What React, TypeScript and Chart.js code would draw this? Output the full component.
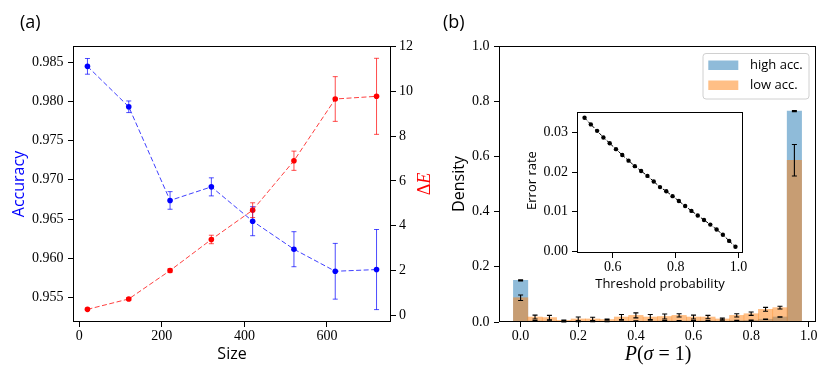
import React, { useEffect, useRef } from 'react';
import { Chart, registerables } from 'chart.js';

Chart.register(...registerables);

// ---------- Panel (a) data ----------
const sizes = [20, 120, 220, 320, 420, 520, 620, 720];
const accuracy = [0.98445, 0.9793, 0.96737, 0.9691, 0.96473, 0.96116, 0.95835, 0.95857];
const accuracyErr = [0.001, 0.00074, 0.00112, 0.00115, 0.00185, 0.00223, 0.00355, 0.0051];
const deltaE = [0.255, 0.72, 1.99, 3.38, 4.69, 6.9, 9.66, 9.78];
const deltaEErr = [0.05, 0.06, 0.08, 0.19, 0.33, 0.43, 1.0, 1.7];
const sizeTicks = [0, 200, 400, 600];
const accuracyTicks = [0.955, 0.96, 0.965, 0.97, 0.975, 0.98, 0.985];
const deltaETicks = [0, 2, 4, 6, 8, 10, 12];

// ---------- Panel (b) data ----------
const binCenters = [0, 0.05, 0.1, 0.15, 0.2, 0.25, 0.3, 0.35, 0.4, 0.45, 0.5, 0.55, 0.6, 0.65, 0.7, 0.75, 0.8, 0.85, 0.9, 0.95];
const highAcc = [0.151, 0.004, 0.003, 0.001, 0.002, 0.002, 0.002, 0.003, 0.003, 0.003, 0.004, 0.004, 0.004, 0.004, 0.003, 0.005, 0.006, 0.01, 0.018, 0.764];
const highAccErr = [0.002, 0.001, 0.001, 0.001, 0.001, 0.001, 0.001, 0.001, 0.001, 0.001, 0.001, 0.001, 0.001, 0.001, 0.001, 0.001, 0.001, 0.001, 0.001, 0.002];
const lowAcc = [0.088, 0.018, 0.016, 0.006, 0.011, 0.011, 0.009, 0.018, 0.024, 0.018, 0.02, 0.024, 0.018, 0.018, 0.011, 0.024, 0.03, 0.046, 0.052, 0.586];
const lowAccErr = [0.01, 0.007, 0.008, 0.001, 0.007, 0.006, 0.002, 0.009, 0.009, 0.009, 0.009, 0.006, 0.007, 0.006, 0.003, 0.006, 0.006, 0.007, 0.005, 0.057];
const probTicks = [0, 0.2, 0.4, 0.6, 0.8, 1.0];
const densityTicks = [0, 0.2, 0.4, 0.6, 0.8, 1.0];

// ---------- Inset data ----------
const thresholds = [0.51, 0.53, 0.55, 0.57, 0.59, 0.61, 0.63, 0.65, 0.67, 0.69, 0.71, 0.73, 0.75, 0.77, 0.79, 0.81, 0.83, 0.85, 0.87, 0.89, 0.91, 0.93, 0.95, 0.97, 0.99];
const errorRate = [0.03375, 0.03208, 0.03045, 0.02878, 0.0273, 0.02581, 0.02432, 0.0229, 0.02151, 0.02027, 0.01903, 0.01762, 0.0162, 0.01514, 0.0139, 0.01266, 0.01141, 0.01017, 0.00901, 0.00787, 0.0067, 0.00546, 0.00414, 0.00256, 0.00107];
const thresholdTicks = [0.6, 0.8, 1.0];
const errorRateTicks = [0, 0.01, 0.02, 0.03];

const SERIF = '"Liberation Serif", "DejaVu Serif", serif';
const SANS = '"Open Sans", "DejaVu Sans", sans-serif';
const TICK_SIZE = 14;

type Run = { text: string; font: string };
type TextItem = { runs: Run[]; x: number; y: number; rotate?: number; color?: string; align?: 'left' | 'center' };

function textPlugin(items: TextItem[]) {
  return {
    id: 'customTexts',
    afterDraw(chart: any) {
      const ctx = chart.ctx;
      items.forEach((it) => {
        ctx.save();
        ctx.translate(it.x, it.y);
        if (it.rotate) ctx.rotate(it.rotate);
        ctx.fillStyle = it.color || '#000';
        ctx.textBaseline = 'middle';
        ctx.textAlign = 'left';
        let total = 0;
        it.runs.forEach((r) => {
          ctx.font = r.font;
          total += ctx.measureText(r.text).width;
        });
        let x = it.align === 'left' ? 0 : -total / 2;
        it.runs.forEach((r) => {
          ctx.font = r.font;
          ctx.fillText(r.text, x, 0);
          x += ctx.measureText(r.text).width;
        });
        ctx.restore();
      });
    },
  };
}

const framePlugin = {
  id: 'frame',
  beforeDraw(chart: any) {
    const { ctx, chartArea: a } = chart;
    ctx.save();
    ctx.fillStyle = '#ffffff';
    ctx.fillRect(a.left, a.top, a.right - a.left, a.bottom - a.top);
    ctx.restore();
  },
  afterDatasetsDraw(chart: any) {
    const { ctx, chartArea: a } = chart;
    ctx.save();
    ctx.strokeStyle = '#000';
    ctx.lineWidth = 1;
    const l = Math.round(a.left) + 0.5;
    const t = Math.round(a.top) + 0.5;
    const r = Math.round(a.right) - 0.5;
    const b = Math.round(a.bottom) - 0.5;
    ctx.strokeRect(l, t, r - l, b - t);
    ctx.restore();
  },
};

const errorBarPlugin = {
  id: 'errorBars',
  afterDatasetsDraw(chart: any) {
    const ctx = chart.ctx;
    chart.data.datasets.forEach((ds: any, i: number) => {
      if (!ds.errors) return;
      const meta = chart.getDatasetMeta(i);
      const xs = chart.scales[meta.xAxisID];
      const ys = chart.scales[meta.yAxisID];
      ctx.save();
      ctx.strokeStyle = ds.errorColor;
      ctx.lineWidth = ds.errorWidth || 1;
      const cap = ds.capSize || 2.5;
      ds.data.forEach((p: any, j: number) => {
        const e = ds.errors[j];
        const x = xs.getPixelForValue(p.x);
        const yt = ys.getPixelForValue(p.y + e);
        const yb = ys.getPixelForValue(p.y - e);
        ctx.beginPath();
        ctx.moveTo(x, yt);
        ctx.lineTo(x, yb);
        ctx.moveTo(x - cap, yt);
        ctx.lineTo(x + cap, yt);
        ctx.moveTo(x - cap, yb);
        ctx.lineTo(x + cap, yb);
        ctx.stroke();
      });
      ctx.restore();
    });
  },
};

function axis(opts: any) {
  const { ticks, fmt, fit, pad, ...rest } = opts;
  return {
    ...rest,
    offset: false,
    grid: { display: true, drawOnChartArea: false, drawTicks: true, tickLength: 5, color: '#000', lineWidth: 1, offset: false },
    border: { display: false },
    ticks: {
      color: '#000',
      font: { family: SERIF, size: TICK_SIZE, lineHeight: 1.1 },
      padding: pad,
      maxRotation: 0,
      autoSkip: false,
      callback: (v: number) => fmt(v),
    },
    afterBuildTicks: (s: any) => {
      s.ticks = ticks.map((v: number) => ({ value: v }));
    },
    afterFit: fit,
  };
}

function useChart(ref: React.RefObject<HTMLCanvasElement>, build: () => any) {
  useEffect(() => {
    if (!ref.current) return;
    const chart = new Chart(ref.current, build());
    return () => chart.destroy();
  }, []);
}

function LeftChart() {
  const ref = useRef<HTMLCanvasElement>(null);
  useChart(ref, () => ({
    type: 'line',
    data: {
      datasets: [
        {
          label: 'Accuracy',
          data: sizes.map((x, i) => ({ x, y: accuracy[i] })),
          xAxisID: 'x',
          yAxisID: 'y',
          borderColor: 'rgba(0,0,255,0.75)',
          borderWidth: 1,
          borderDash: [5, 2.5],
          pointRadius: 2.8,
          pointBackgroundColor: '#0000ff',
          pointBorderColor: '#0000ff',
          pointBorderWidth: 0,
          tension: 0,
          errors: accuracyErr,
          errorColor: 'rgba(0,0,255,0.7)',
          capSize: 2.5,
        },
        {
          label: 'ΔE',
          data: sizes.map((x, i) => ({ x, y: deltaE[i] })),
          xAxisID: 'x',
          yAxisID: 'y1',
          borderColor: 'rgba(255,0,0,0.75)',
          borderWidth: 1,
          borderDash: [5, 2.5],
          pointRadius: 2.8,
          pointBackgroundColor: '#ff0000',
          pointBorderColor: '#ff0000',
          pointBorderWidth: 0,
          tension: 0,
          errors: deltaEErr,
          errorColor: 'rgba(255,0,0,0.7)',
          capSize: 2.5,
        },
      ],
    },
    options: {
      animation: false,
      responsive: false,
      layout: { padding: { top: 46, left: 0, right: 0, bottom: 0 } },
      plugins: { legend: { display: false }, tooltip: { enabled: false } },
      scales: {
        x: axis({ type: 'linear', position: 'bottom', min: -15, max: 755, ticks: sizeTicks, pad: 2, fmt: (v: number) => String(v), fit: (s: any) => { s.height = 56; } }),
        y: axis({ type: 'linear', position: 'left', min: 0.95189, max: 0.98704, ticks: accuracyTicks, pad: 4.5, fmt: (v: number) => v.toFixed(3), fit: (s: any) => { s.width = 73; } }),
        y1: axis({ type: 'linear', position: 'right', min: -0.31, max: 12.03, ticks: deltaETicks, pad: 3, fmt: (v: number) => String(v), fit: (s: any) => { s.width = 49; } }),
      },
    },
    plugins: [
      framePlugin,
      errorBarPlugin,
      textPlugin([
        { runs: [{ text: '(a)', font: `18px ${SANS}` }], x: 20, y: 23, align: 'left' },
        { runs: [{ text: 'Accuracy', font: `16px ${SANS}` }], x: 19, y: 184, rotate: -Math.PI / 2, color: '#0000ff' },
        { runs: [{ text: 'Size', font: `16px ${SANS}` }], x: 232, y: 354 },
        {
          runs: [
            { text: 'Δ', font: `18px ${SERIF}` },
            { text: 'E', font: `italic 18px ${SERIF}` },
          ],
          x: 425,
          y: 184,
          rotate: -Math.PI / 2,
          color: '#ff0000',
        },
      ]),
    ],
  }));
  return <canvas ref={ref} width={440} height={378} style={{ position: 'absolute', left: 0, top: 0, width: 440, height: 378 }} />;
}

function legendPlugin() {
  return {
    id: 'histLegend',
    afterDraw(chart: any) {
      const ctx = chart.ctx;
      ctx.save();
      const x = 283, y = 53.5, w = 106, h = 45.5, r = 3;
      ctx.beginPath();
      ctx.moveTo(x + r, y);
      ctx.arcTo(x + w, y, x + w, y + h, r);
      ctx.arcTo(x + w, y + h, x, y + h, r);
      ctx.arcTo(x, y + h, x, y, r);
      ctx.arcTo(x, y, x + w, y, r);
      ctx.closePath();
      ctx.fillStyle = 'rgba(255,255,255,0.8)';
      ctx.fill();
      ctx.strokeStyle = '#d0d0d0';
      ctx.lineWidth = 1;
      ctx.stroke();
      ctx.fillStyle = 'rgba(31,119,180,0.5)';
      ctx.fillRect(288.3, 60.5, 30, 9.5);
      ctx.fillStyle = 'rgba(255,127,14,0.5)';
      ctx.fillRect(288.3, 80.5, 30, 9.5);
      ctx.fillStyle = '#000';
      ctx.font = `13px ${SANS}`;
      ctx.textBaseline = 'middle';
      ctx.textAlign = 'left';
      ctx.fillText('high acc.', 330, 65.5);
      ctx.fillText('low acc.', 330, 85.5);
      ctx.restore();
    },
  };
}

function RightChart() {
  const ref = useRef<HTMLCanvasElement>(null);
  useChart(ref, () => ({
    type: 'bar',
    data: {
      datasets: [
        {
          label: 'high acc.',
          data: binCenters.map((x, i) => ({ x, y: highAcc[i] })),
          backgroundColor: 'rgba(31,119,180,0.5)',
          borderWidth: 0,
          barPercentage: 1,
          categoryPercentage: 1,
          grouped: false,
          order: 2,
          errors: highAccErr,
          errorColor: '#000',
          errorWidth: 1.1,
          capSize: 2.5,
        },
        {
          label: 'low acc.',
          data: binCenters.map((x, i) => ({ x, y: lowAcc[i] })),
          backgroundColor: 'rgba(255,127,14,0.5)',
          borderWidth: 0,
          barPercentage: 1,
          categoryPercentage: 1,
          grouped: false,
          order: 1,
          errors: lowAccErr,
          errorColor: '#000',
          errorWidth: 1.1,
          capSize: 2.5,
        },
      ],
    },
    options: {
      animation: false,
      responsive: false,
      layout: { padding: { top: 46, left: 0, right: 14, bottom: 0 } },
      plugins: { legend: { display: false }, tooltip: { enabled: false } },
      scales: {
        x: axis({ type: 'linear', position: 'bottom', min: -0.075, max: 1.025, ticks: probTicks, pad: 2, fmt: (v: number) => v.toFixed(1), fit: (s: any) => { s.height = 56; } }),
        y: axis({ type: 'linear', position: 'left', min: 0, max: 1, ticks: densityTicks, pad: 4.5, fmt: (v: number) => v.toFixed(1), fit: (s: any) => { s.width = 79; } }),
      },
    },
    plugins: [
      framePlugin,
      errorBarPlugin,
      legendPlugin(),
      textPlugin([
        { runs: [{ text: '(b)', font: `18px ${SANS}` }], x: 23, y: 23, align: 'left' },
        { runs: [{ text: 'Density', font: `16px ${SANS}` }], x: 39, y: 184, rotate: -Math.PI / 2 },
        {
          runs: [
            { text: 'P', font: `italic 20px ${SERIF}` },
            { text: '(', font: `20px ${SERIF}` },
            { text: 'σ', font: `italic 20px ${SERIF}` },
            { text: ' = 1)', font: `20px ${SERIF}` },
          ],
          x: 238,
          y: 355,
        },
      ]),
    ],
  }));
  return <canvas ref={ref} width={410} height={378} style={{ position: 'absolute', left: 420, top: 0, width: 410, height: 378 }} />;
}

function InsetChart() {
  const ref = useRef<HTMLCanvasElement>(null);
  useChart(ref, () => ({
    type: 'line',
    data: {
      datasets: [
        {
          label: 'Error rate',
          data: thresholds.map((x, i) => ({ x, y: errorRate[i] })),
          borderColor: '#000',
          borderWidth: 1,
          borderDash: [3.5, 1.8],
          pointRadius: 2.2,
          pointBackgroundColor: '#000',
          pointBorderColor: '#000',
          pointBorderWidth: 0,
          tension: 0,
        },
      ],
    },
    options: {
      animation: false,
      responsive: false,
      layout: { padding: { top: 8, left: 0, right: 12, bottom: 0 } },
      plugins: { legend: { display: false }, tooltip: { enabled: false } },
      scales: {
        x: axis({ type: 'linear', position: 'bottom', min: 0.486, max: 1.014, ticks: thresholdTicks, pad: 2, fmt: (v: number) => v.toFixed(1), fit: (s: any) => { s.height = 47; } }),
        y: axis({ type: 'linear', position: 'left', min: -0.0005, max: 0.0353, ticks: errorRateTicks, pad: 4, fmt: (v: number) => v.toFixed(2), fit: (s: any) => { s.width = 67; } }),
      },
    },
    plugins: [
      framePlugin,
      textPlugin([
        { runs: [{ text: 'Error rate', font: `13px ${SANS}` }], x: 22, y: 80.5, rotate: -Math.PI / 2 },
        { runs: [{ text: 'Threshold probability', font: `13px ${SANS}` }], x: 150, y: 184 },
      ]),
    ],
  }));
  return <canvas ref={ref} width={245} height={200} style={{ position: 'absolute', left: 510, top: 100, width: 245, height: 200 }} />;
}

export default function App() {
  return (
    <div style={{ position: 'absolute', left: 0, top: 0, width: 830, height: 378, background: '#ffffff', overflow: 'hidden' }}>
      <LeftChart />
      <RightChart />
      <InsetChart />
    </div>
  );
}
